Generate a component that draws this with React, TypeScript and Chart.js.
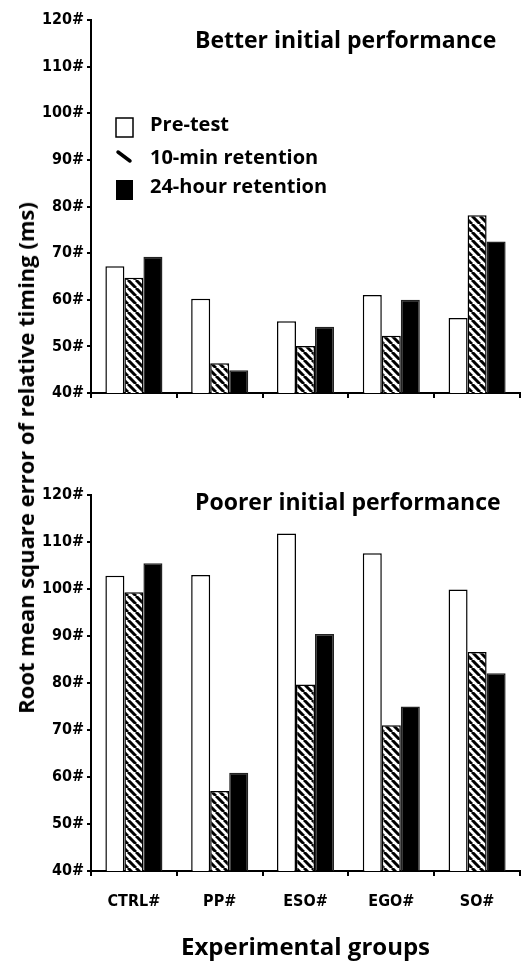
import React, { useEffect, useRef } from 'react';
import { Chart, registerables } from 'chart.js';

Chart.register(...registerables);

// ---------- data ----------
const categories = ['CTRL#', 'PP#', 'ESO#', 'EGO#', 'SO#'];
const seriesNames = ['Pre-test', '10-min retention', '24-hour retention'];

const betterPre = [67.2, 60.2, 55.4, 61.0, 56.1];
const better10 = [64.7, 46.4, 50.1, 52.3, 78.1];
const better24 = [69.2, 44.9, 54.2, 60.0, 72.5];

const poorerPre = [102.8, 103.0, 111.8, 107.6, 99.9];
const poorer10 = [99.3, 57.0, 79.7, 71.0, 86.6];
const poorer24 = [105.5, 60.9, 90.4, 75.0, 82.1];

const yTicks = [40, 50, 60, 70, 80, 90, 100, 110, 120];
const panelTitles = ['Better initial performance', 'Poorer initial performance'];
const xTitle = 'Experimental groups';
const yTitle = 'Root mean square error of relative timing (ms)';

const TICK_FONT = { family: '"Liberation Sans Narrow", "DejaVu Sans Condensed", sans-serif', weight: 'bold' as const, size: 16 };
const LABEL_FAMILY = '"Open Sans", "DejaVu Sans", sans-serif';

function makeHatch(): CanvasPattern | string {
  const s = 8;
  const c = document.createElement('canvas');
  c.width = s;
  c.height = s;
  const g = c.getContext('2d');
  if (!g) return '#888';
  g.fillStyle = '#fff';
  g.fillRect(0, 0, s, s);
  g.strokeStyle = '#000';
  g.lineWidth = 3;
  g.beginPath();
  for (const k of [-s, 0, s]) {
    g.moveTo(k, 0);
    g.lineTo(k + s, s);
  }
  g.stroke();
  return g.createPattern(c, 'repeat') || '#888';
}

const panelDecor = {
  id: 'panelDecor',
  afterDraw(chart: any, _args: any, opts: any) {
    const { ctx, chartArea } = chart;
    ctx.save();
    ctx.fillStyle = '#000';
    ctx.font = `bold 23px ${LABEL_FAMILY}`;
    ctx.textAlign = 'left';
    ctx.textBaseline = 'alphabetic';
    ctx.fillText(opts.title, chartArea.left + opts.titleLeft, chartArea.top + opts.titleBaseline);

    if (opts.legend) {
      const rows = [105, 138, 167];
      const sx = chartArea.left + 25;
      const tx = chartArea.left + 59;
      ctx.font = `bold 20px ${LABEL_FAMILY}`;
      ctx.textBaseline = 'middle';
      chart.data.datasets.forEach((ds: any, i: number) => {
        const ry = chartArea.top + rows[i];
        ctx.lineWidth = 1.5;
        ctx.strokeStyle = '#000';
        if (i === 0) {
          ctx.fillStyle = '#fff';
          ctx.fillRect(sx, ry - 7, 17, 19);
          ctx.strokeRect(sx, ry - 7, 17, 19);
        } else if (i === 1) {
          ctx.lineWidth = 3.5;
          ctx.lineCap = 'round';
          ctx.beginPath();
          ctx.moveTo(sx + 2, ry - 6);
          ctx.lineTo(sx + 14, ry + 3);
          ctx.stroke();
        } else {
          ctx.fillStyle = '#000';
          ctx.fillRect(sx, ry - 7, 17, 20);
        }
        ctx.fillStyle = '#000';
        ctx.fillText(ds.label, tx, ry);
      });
    }
    ctx.restore();
  },
};

function buildConfig(values: number[][], panel: number, showLabels: boolean, padding: any): any {
  const hatch = makeHatch();
  const fills = ['#fff', hatch, '#000'];
  const borders = ['#000', '#000', '#222'];
  return {
    type: 'bar',
    data: {
      labels: categories,
      datasets: values.map((v, i) => ({
        label: seriesNames[i],
        data: v,
        backgroundColor: fills[i],
        borderColor: borders[i],
        borderWidth: 1.5,
        categoryPercentage: 0.665,
        barPercentage: 1.0,
      })),
    },
    options: {
      responsive: false,
      animation: false,
      devicePixelRatio: 1,
      layout: { padding },
      plugins: {
        legend: { display: false },
        tooltip: { enabled: false },
        title: { display: false },
        panelDecor: {
          title: panelTitles[panel],
          titleLeft: 104,
          titleBaseline: panel === 0 ? 28 : 15,
          legend: panel === 0,
        },
      },
      scales: {
        x: {
          type: 'category',
          offset: true,
          grid: {
            display: true,
            drawOnChartArea: false,
            drawTicks: true,
            tickLength: 5,
            color: '#000',
            lineWidth: 2,
            offset: true,
          },
          border: { display: true, color: '#000', width: 2 },
          ticks: {
            display: showLabels,
            font: TICK_FONT,
            color: '#000',
            padding: 16,
            maxRotation: 0,
            autoSkip: false,
          },
          title: {
            display: showLabels,
            text: xTitle,
            font: { family: LABEL_FAMILY, weight: 'bold', size: 24 },
            color: '#000',
            padding: { top: 7, bottom: 0 },
          },
        },
        y: {
          min: 40,
          max: 120,
          afterFit: (s: any) => {
            s.width = 91;
          },
          afterBuildTicks: (s: any) => {
            s.ticks = yTicks.map((v) => ({ value: v }));
          },
          ticks: {
            stepSize: 10,
            callback: (v: any) => `${v}#`,
            font: TICK_FONT,
            color: '#000',
            padding: 3,
          },
          grid: {
            drawOnChartArea: false,
            drawTicks: true,
            tickLength: 4,
            color: '#000',
            lineWidth: 2,
          },
          border: { display: true, color: '#000', width: 2 },
        },
      },
    },
    plugins: [panelDecor],
  };
}

function Panel(props: { values: number[][]; panel: number; showLabels: boolean; padding: any; top: number; height: number }) {
  const ref = useRef<HTMLCanvasElement | null>(null);
  useEffect(() => {
    if (!ref.current) return;
    const chart = new Chart(ref.current, buildConfig(props.values, props.panel, props.showLabels, props.padding));
    return () => chart.destroy();
  }, []);
  return (
    <canvas
      ref={ref}
      width={521}
      height={props.height}
      style={{ position: 'absolute', left: 0, top: props.top, width: 521, height: props.height }}
    />
  );
}

export default function App() {
  return (
    <div style={{ position: 'absolute', left: 0, top: 0, width: 521, height: 968, background: '#fff', overflow: 'hidden' }}>
      <Panel
        values={[betterPre, better10, better24]}
        panel={0}
        showLabels={false}
        padding={{ left: 0, right: 1, top: 20, bottom: 22 }}
        top={0}
        height={420}
      />
      <Panel
        values={[poorerPre, poorer10, poorer24]}
        panel={1}
        showLabels={true}
        padding={{ left: 0, right: 1, top: 75, bottom: 5 }}
        top={420}
        height={548}
      />
      <div
        style={{
          position: 'absolute',
          left: 25,
          top: 458,
          transform: 'translate(-50%, -50%) rotate(-90deg)',
          whiteSpace: 'nowrap',
          font: `bold 22px ${LABEL_FAMILY}`,
          color: '#000',
          lineHeight: '26px',
        }}
      >
        {yTitle}
      </div>
    </div>
  );
}
